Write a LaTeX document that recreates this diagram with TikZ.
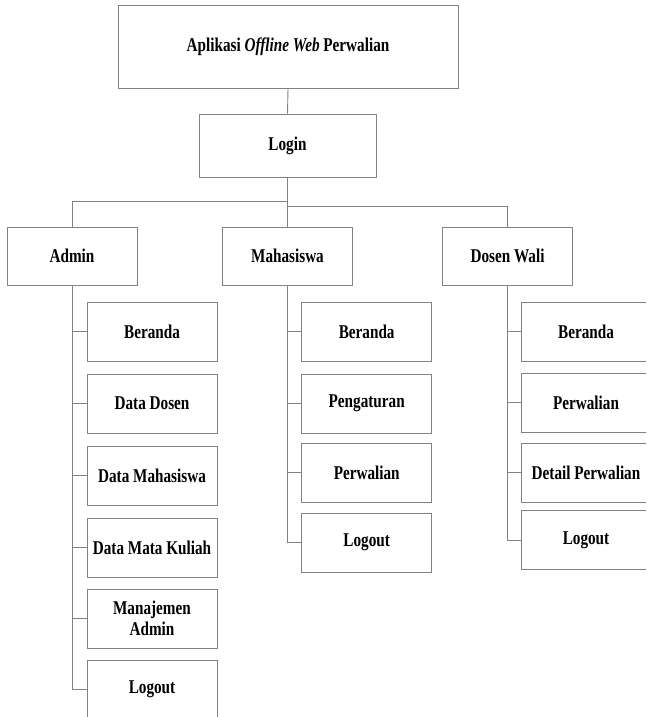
\documentclass[tikz,border=0pt]{standalone}
\usepackage{fontspec}
\setmainfont{Liberation Serif}[FakeStretch=0.78]
\definecolor{edge}{RGB}{130,130,130}
\begin{document}
\begin{tikzpicture}[x=1pt,y=-1pt,
  box/.style={draw=edge,line width=0.9pt,inner sep=0pt,align=center,font=\fontsize{19.5}{21}\selectfont\bfseries},
  leaf/.style={box,minimum width=130pt,minimum height=59pt},
  mid/.style={box,minimum width=130pt,minimum height=58pt},
  link/.style={draw=edge,line width=0.9pt}]
\useasboundingbox (0,0) rectangle (646,717);
\clip (0,0) rectangle (646,717);
\node[box,minimum width=340pt,minimum height=83pt] (top) at (288,46.5) {Aplikasi \textit{Offline Web} Perwalian};
\node[box,minimum width=177pt,minimum height=63pt] (login) at (287.5,145.5) {Login};
\node[mid] (admin) at (72,256) {Admin};
\node[mid] (mhs) at (287.5,256) {Mahasiswa};
\node[mid] (dosen) at (507.5,256) {Dosen Wali};
% admin children
\node[leaf] (a1) at (152,331.5) {Beranda};
\node[leaf] (a2) at (152,403.5) {Data Dosen};
\node[leaf] (a3) at (152,475.5) {Data Mahasiswa};
\node[leaf] (a4) at (152,547.5) {Data Mata Kuliah};
\node[leaf] (a5) at (152,618.5) {Manajemen\\Admin};
\node[leaf] (a6) at (152,689.5) {Logout};
% mahasiswa children
\node[leaf] (m1) at (366.7,331.5) {Beranda};
\node[leaf] (m2) at (366.7,403.5) {Pengaturan};
\node[leaf] (m3) at (366.7,472.5) {Perwalian};
\node[leaf] (m4) at (366.7,542.5) {Logout};
% dosen children
\node[leaf] (d1) at (586,331.5) {Beranda};
\node[leaf] (d2) at (586,402.5) {Perwalian};
\node[leaf] (d3) at (586,472.5) {Detail Perwalian};
\node[leaf] (d4) at (586,540) {Logout};
% connectors
\draw[link] (top.south) -- (login.north);
\draw[link] (login.south) -- (mhs.north);
\coordinate (jl) at (287.5,201);
\coordinate (jr) at (287.5,206.5);
\draw[link] (jl) -| (admin.north);
\draw[link] (jr) -| (dosen.north);
\foreach \c in {a1,a2,a3,a4,a5,a6}{\draw[link] (admin.south) |- (\c.west);}
\foreach \c in {m1,m2,m3,m4}{\draw[link] (mhs.south) |- (\c.west);}
\foreach \c in {d1,d2,d3,d4}{\draw[link] (dosen.south) |- (\c.west);}
\end{tikzpicture}
\end{document}
